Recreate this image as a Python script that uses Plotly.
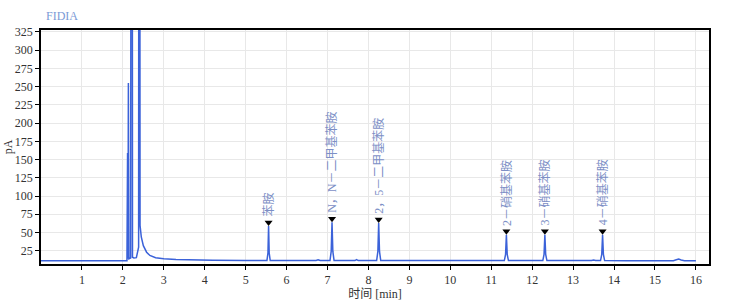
import plotly.graph_objects as go

# Chromatogram trace (time in min, signal in pA)
time_min = [0.0, 2.10, 2.115, 2.125, 2.135, 2.148, 2.19, 2.21, 2.22, 2.235, 2.27, 2.33, 2.385, 2.40, 2.42,
            2.45, 2.50, 2.58, 2.66, 2.80, 3.0, 3.3, 3.7, 4.2, 5.0, 5.25, 5.29, 5.33,
            5.52, 5.545, 5.56, 5.575, 5.60, 6.72, 6.77, 6.82,
            7.06, 7.09, 7.11, 7.13, 7.16, 7.67, 7.71, 7.75,
            8.20, 8.23, 8.25, 8.27, 8.30, 11.32, 11.35, 11.37, 11.39, 11.42,
            12.26, 12.29, 12.31, 12.33, 12.36, 13.45, 13.50, 13.55,
            13.67, 13.70, 13.72, 13.74, 13.77, 14.3, 15.45, 15.52, 15.58, 15.64, 15.72, 16.0]
signal_pA = [11.2, 11.2, 159, 14, 255, 14, 15, 2000, 2000, 16, 15, 15.5, 30, 2000, 60,
             44, 32, 23, 18.5, 15.5, 14, 13, 12.3, 11.8, 11.5, 11.5, 12.5, 11.5,
             11.5, 22, 59, 22, 11.5, 11.5, 12.5, 11.5,
             11.5, 24, 64, 24, 11.5, 11.5, 12.8, 11.5,
             11.5, 24, 63, 24, 11.5, 11.5, 20, 47, 20, 11.5,
             11.5, 20, 47, 20, 11.5, 11.5, 12.3, 11.5,
             11.5, 20, 47, 20, 11.5, 11.3, 11.3, 12.5, 13.5, 12.3, 11.3, 11.3]

# Identified peaks
peak_names = ["苯胺", "N，N－二甲基苯胺", "2，5－二甲基苯胺", "2－硝基苯胺", "3－硝基苯胺", "4－硝基苯胺"]
peak_times = [5.56, 7.11, 8.25, 11.37, 12.31, 13.72]
peak_heights = [59, 64, 63, 47, 47, 47]

x_ticks = list(range(1, 17))
y_ticks = list(range(25, 326, 25))

FONT = "Liberation Serif, Noto Sans CJK SC, serif"
LINE_BLUE = "#3b62d9"
LABEL_BLUE = "#7d8fc6"

fig = go.Figure()
fig.add_trace(go.Scatter(x=time_min, y=signal_pA, mode="lines",
                         line=dict(color=LINE_BLUE, width=1.5), hoverinfo="skip"))
fig.add_trace(go.Scatter(x=peak_times, y=[h + 4.8 for h in peak_heights], mode="markers",
                         marker=dict(symbol="triangle-down", size=7, color="black"),
                         hoverinfo="skip"))

for name, t, h in zip(peak_names, peak_times, peak_heights):
    fig.add_annotation(x=t, y=h, text=name, textangle=-90, showarrow=False,
                       xanchor="center", yanchor="bottom", yshift=7,
                       font=dict(family=FONT, size=12, color=LABEL_BLUE))

fig.add_annotation(text="FIDIA", xref="paper", yref="paper", x=0.005, y=1.0, yshift=14,
                   xanchor="left", yanchor="middle", showarrow=False,
                   font=dict(family=FONT, size=12, color="#7b9ad6"))

axis_common = dict(showline=True, linecolor="black", linewidth=1.5, mirror=True,
                   ticks="outside", ticklen=4, tickcolor="black", tickwidth=1,
                   showgrid=True, gridcolor="#e8e8e8", gridwidth=1, zeroline=False,
                   automargin=False,
                   tickfont=dict(family=FONT, size=12, color="#333333"))

fig.update_xaxes(range=[0, 16.32], tickvals=x_ticks, ticktext=[str(v) for v in x_ticks],
                 title=dict(text="时间 [min]", font=dict(family=FONT, size=12, color="#333333"),
                            standoff=2),
                 **axis_common)
fig.update_yaxes(range=[6.8, 327.7], tickvals=y_ticks,
                 title=dict(text="pA", font=dict(family=FONT, size=12, color="#333333"),
                            standoff=0),
                 **axis_common)

fig.update_layout(width=744, height=306, margin=dict(l=41, r=35, t=30, b=42),
                  paper_bgcolor="white", plot_bgcolor="white", showlegend=False)

fig.write_html("out.html")
